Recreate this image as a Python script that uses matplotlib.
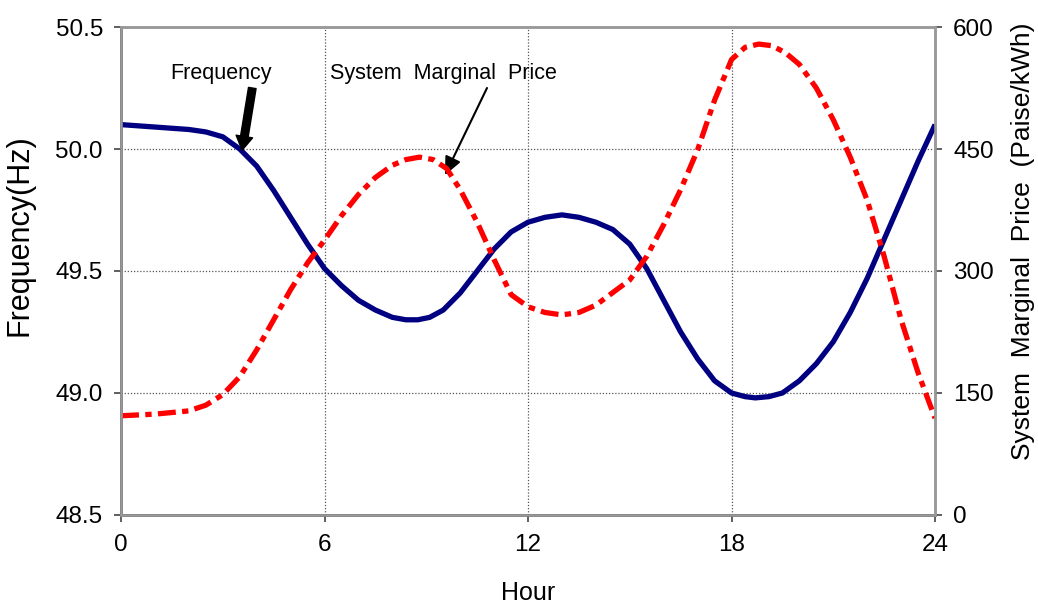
import matplotlib.pyplot as plt

plt.rcParams['font.family'] = ['Liberation Sans', 'DejaVu Sans']

hours = [0, 1, 2, 2.5, 3, 3.5, 4, 4.5, 5, 5.5, 6, 6.5, 7, 7.5, 8, 8.4, 8.75, 9.1, 9.5, 10,
         10.5, 11, 11.5, 12, 12.5, 13, 13.5, 14, 14.5, 15, 15.5, 16, 16.5, 17, 17.5, 18,
         18.4, 18.7, 19.1, 19.5, 20, 20.5, 21, 21.5, 22, 22.5, 23, 23.5, 24]
frequency = [50.10, 50.09, 50.08, 50.07, 50.05, 50.00, 49.93, 49.83, 49.72, 49.61, 49.51,
             49.44, 49.38, 49.34, 49.31, 49.30, 49.30, 49.31, 49.34, 49.41, 49.50, 49.59,
             49.66, 49.70, 49.72, 49.73, 49.72, 49.70, 49.67, 49.61, 49.51, 49.38, 49.25,
             49.14, 49.05, 49.00, 48.985, 48.98, 48.985, 49.00, 49.05, 49.12, 49.21, 49.33,
             49.47, 49.63, 49.79, 49.95, 50.10]

price_hours = [0, 1, 2, 2.5, 3, 3.5, 4, 4.5, 5, 5.5, 6, 6.5, 7, 7.5, 8, 8.4, 8.8, 9.2, 9.6,
               10, 10.5, 11, 11.5, 12, 12.5, 13, 13.5, 14, 15, 15.5, 16, 16.5, 17, 17.5, 18,
               18.4, 18.8, 19.2, 19.6, 20, 20.5, 21, 21.5, 22, 22.5, 23, 23.5, 24]
price = [122, 124, 128, 135, 148, 170, 203, 240, 277, 310, 338, 368, 394, 415, 430, 437,
         440, 437, 426, 400, 360, 314, 271, 256, 249, 246, 249, 258, 289, 318, 357, 400,
         449, 510, 560, 575, 579, 577, 568, 554, 525, 486, 440, 387, 318, 240, 175, 119]

fig = plt.figure(figsize=(10.38, 6.07), dpi=100)
ax = fig.add_axes([0.1166, 0.1516, 0.7842, 0.8039])
ax2 = ax.twinx()

ax.plot(hours, frequency, color='#000080', lw=3.8, solid_capstyle='butt', zorder=3)
ax2.plot(price_hours, price, color='#ff0000', lw=3.8, dashes=(3.4, 1.2, 1.2, 1.2))

ax.set_xlim(0, 24)
ax.set_ylim(48.5, 50.5)
ax2.set_ylim(0, 600)
ax.set_xticks([0, 6, 12, 18, 24])
ax.set_yticks([48.5, 49.0, 49.5, 50.0, 50.5])
ax.set_yticklabels(['48.5', '49.0', '49.5', '50.0', '50.5'])
ax2.set_yticks([0, 150, 300, 450, 600])

ax.grid(True, color='#555555', linestyle=(0, (1, 1.5)), linewidth=0.9)
ax.set_axisbelow(True)

for a in (ax, ax2):
    for s in a.spines.values():
        s.set_color('#999999')
        s.set_linewidth(1.8)
    a.tick_params(labelsize=17.5, length=5, width=1.2, color='#444444')
ax.spines['left'].set_color('#333333')
ax.spines['bottom'].set_color('#333333')
ax.tick_params(axis='x', pad=9)
ax.tick_params(axis='y', pad=8)
ax2.tick_params(axis='y', pad=8)

ax.set_xlabel('Hour', fontsize=18, labelpad=18)
ax.set_ylabel('Frequency(Hz)', fontsize=22, labelpad=15)
ax2.set_ylabel('System  Marginal  Price  (Paise/kWh)', fontsize=19, labelpad=12)
ax.yaxis.label.set_y(0.573)
ax2.yaxis.label.set_y(0.56)

ax.annotate('', xy=(3.57, 49.995), xytext=(3.87, 50.25),
            arrowprops=dict(arrowstyle='simple,head_length=1.0,head_width=1.2,tail_width=0.55',
                            color='black', shrinkA=0, shrinkB=0))
ax.text(2.95, 50.31, 'Frequency', fontsize=15.5, ha='center', va='center')
ax.text(9.5, 50.31, 'System  Marginal  Price', fontsize=15.5, ha='center', va='center')
ax.annotate('', xy=(9.55, 49.893), xytext=(10.79, 50.25),
            arrowprops=dict(arrowstyle='-|>,head_length=1.1,head_width=0.5', color='black',
                            lw=1.5, shrinkA=0, shrinkB=0))

fig.savefig('out.png', dpi=100)
